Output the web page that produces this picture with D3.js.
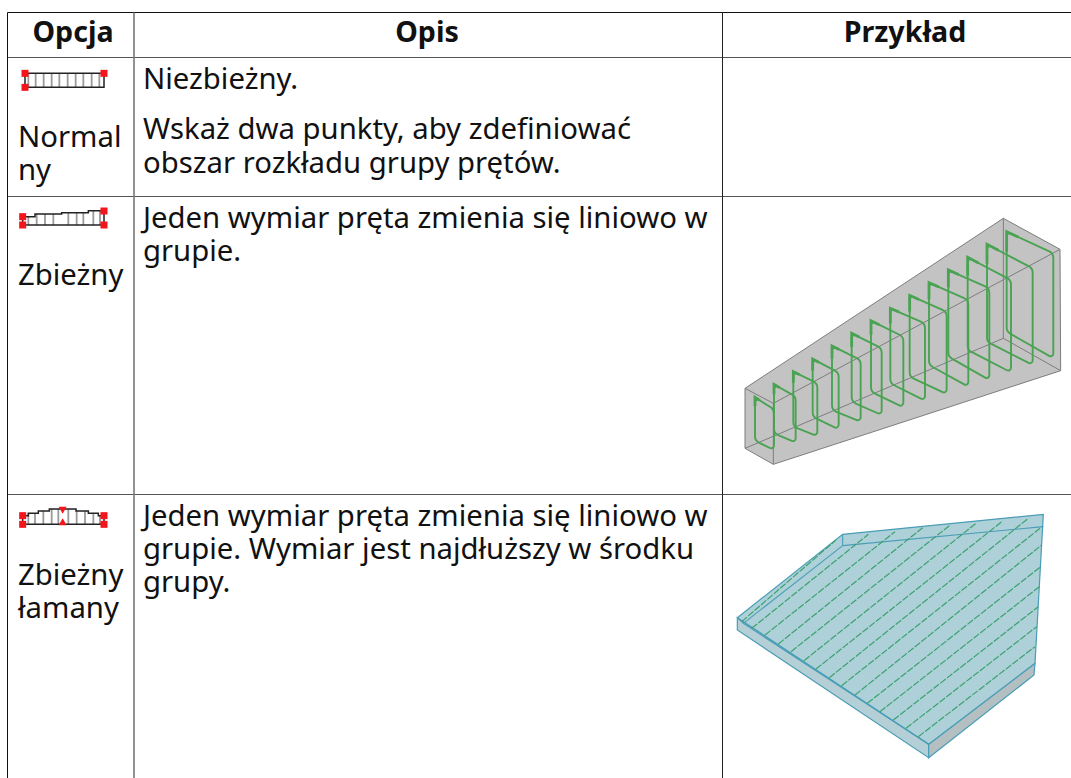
<!DOCTYPE html>
<html>
<head>
<meta charset="utf-8">
<script src="https://cdn.jsdelivr.net/npm/d3@7"></script>
<style>
  html, body { margin: 0; padding: 0; background: #fff; overflow: hidden; }
  text { font-family: "Noto Sans", sans-serif; fill: #111; }
</style>
</head>
<body>
<div id="chart"></div>
<script>
// table content
var headers = ["Opcja", "Opis", "Przykład"];
var optionLabels = [["Normal", "ny"], ["Zbieżny"], ["Zbieżny", "łamany"]];
var optionBaselines = [[147, 180], [285], [585, 618]];
var descriptions = [
  ["Niezbieżny.", "", "Wskaż dwa punkty, aby zdefiniować", "obszar rozkładu grupy prętów."],
  ["Jeden wymiar pręta zmienia się liniowo w", "grupie."],
  ["Jeden wymiar pręta zmienia się liniowo w", "grupie. Wymiar jest najdłuższy w środku", "grupy."]
];
var descBaselines = [[89, 0, 139, 172.5], [228, 261], [526, 559, 592]];

// grid lines
var columnEdges = [7.5, 134, 722.5];
var columnColours = ["#111", "#777", "#222"];
var rowEdges = [12.5, 57.5, 196.5, 494.5];
var headerCentres = [73, 427, 905];
var headerBaseline = 42;

// stirrup picture, read in 3x crop units (crop starts at 730,200)
var boxOutline = [[45,565],[820,55],[990,148],[992,512],[130,793],[45,745]];
var boxInner = [
  [[45,565],[130,610],[130,793]],
  [[130,610],[990,148]],
  [[45,745],[820,415]],
  [[820,55],[820,415]],
  [[820,415],[992,512]]
];
var stirTL = [[75,592],[132,553],[190,515],[248,477],[306,438],[365,400],[423,362],[481,325],[539,286],[597,248],[655,210],[713,172],[771,133],[830,95]];
var stirTR = [[132,628],[197,590],[262,550],[326,518],[392,480],[455,445],[520,410],[585,370],[650,335],[715,300],[778,265],[843,240],[908,205],[970,160]];
var stirBR = [[132,750],[197,728],[262,708],[326,688],[392,665],[455,645],[520,622],[585,602],[650,582],[715,560],[778,540],[843,517],[908,495],[970,475]];
var stirBL = [[75,722],[132,700],[190,680],[248,650],[306,630],[365,605],[423,575],[481,550],[539,530],[597,495],[655,470],[713,450],[771,425],[830,395]];

// plate picture, read in 3x crop units (crop starts at 730,495)
var plateTop = [[22,368],[338,118],[940,58],[915,505],[596,748]];
var plateFrontLeft = [[22,368],[22,405],[596,788],[596,748]];
var plateFrontRight = [[596,748],[596,788],[912,540],[915,505]];
var plateHidden = [
  [[338,118],[338,152]],
  [[338,152],[940,95]],
  [[338,152],[40,385]],
  [[22,368],[40,385]],
  [[40,385],[596,748]]
];
var plateBars = [
  [[35,380],[318,135]], [[65,400],[415,118]], [[105,420],[495,110]], [[145,447],[578,98]],
  [[183,470],[658,92]], [[222,497],[738,85]], [[258,522],[818,78]], [[298,548],[895,70]],
  [[335,572],[930,100]], [[375,600],[935,150]], [[412,625],[932,215]], [[450,650],[928,275]],
  [[490,675],[925,335]], [[528,700],[920,395]], [[565,725],[915,455]]
];

// small option icons, read in 3x crop units (crops start at 0,0 / 0,190 / 0,490)
var icon1Frame = [[75,220],[312,220],[312,262],[75,262],[75,220]];
var icon1Bars = [85,107,131,155,178,203,227,250,275,298];
var icon1Red = [[75,220],[75,262],[312,220]];
var icon2Top = [[68,80],[105,80],[105,72],[185,72],[185,68],[265,68],[265,62],[312,62]];
var icon2Bottom = [[68,105],[312,105]];
var icon2Bars = [[85,80],[110,72],[135,72],[160,72],[205,68],[230,68],[250,68],[280,62],[300,62]];
var icon2Red = [[68,80],[68,105],[312,63],[312,105]];
var icon3Top = [[68,77],[85,77],[85,70],[115,70],[115,63],[148,63],[148,57],[228,57],[228,63],[265,63],[265,70],[295,70],[295,77],[312,77]];
var icon3Bottom = [[68,103],[312,103]];
var icon3Bars = [[85,70],[105,70],[130,63],[155,57],[175,57],[205,57],[230,63],[255,63],[280,70],[300,77]];
var icon3Red = [[68,77],[68,103],[312,77],[312,103]];
var icon3Tri = [[188,62,1],[188,94,-1]];

var svgWidth = 1071, svgHeight = 778;

var svg = d3.select("#chart").append("svg")
  .attr("width", svgWidth)
  .attr("height", svgHeight)
  .style("display", "block");

// crop units to page pixels
function cropScales(x0, y0) {
  return {
    x: d3.scaleLinear().domain([0, 3]).range([x0, x0 + 1]),
    y: d3.scaleLinear().domain([0, 3]).range([y0, y0 + 1])
  };
}
function lineFor(s, closed) {
  var l = d3.line().x(d => s.x(d[0])).y(d => s.y(d[1]));
  return closed ? pts => l(pts) + "Z" : l;
}

// stirrup picture
var boxS = cropScales(730, 200);
var g1 = svg.append("g");
g1.append("path").attr("d", lineFor(boxS, true)(boxOutline))
  .attr("fill", "#c3c3c3").attr("stroke", "#7d7d7d").attr("stroke-width", 1);
g1.selectAll("path.inner").data(boxInner).enter().append("path")
  .attr("class", "inner")
  .attr("d", lineFor(boxS))
  .attr("fill", "none").attr("stroke", "#7d7d7d").attr("stroke-width", 1);

// rounded closed stirrup through d3.path arcs
function stirrupPath(i) {
  var c = [stirTL[i], stirTR[i], stirBR[i], stirBL[i]].map(p => [boxS.x(p[0]), boxS.y(p[1])]);
  var p = d3.path(), r = 7;
  p.moveTo((c[0][0] + c[3][0]) / 2, (c[0][1] + c[3][1]) / 2);
  p.arcTo(c[0][0], c[0][1], c[1][0], c[1][1], r * 0.4);
  p.arcTo(c[1][0], c[1][1], c[2][0], c[2][1], r);
  p.arcTo(c[2][0], c[2][1], c[3][0], c[3][1], r * 0.4);
  p.arcTo(c[3][0], c[3][1], c[0][0], c[0][1], r);
  p.closePath();
  return p.toString();
}
g1.selectAll("path.stirrup").data(d3.range(stirTL.length)).enter().append("path")
  .attr("class", "stirrup")
  .attr("d", stirrupPath)
  .attr("fill", "none").attr("stroke", "#4aa352").attr("stroke-width", 1.9);
// thicker hook at the top left corner of each stirrup
function hookPath(i) {
  var tl = stirTL[i], tr = stirTR[i], bl = stirBL[i];
  var along = d3.interpolateArray(tl, tr)(0.25), down = d3.interpolateArray(tl, bl)(0.2);
  return lineFor(boxS)([down, tl, along]);
}
g1.selectAll("path.hook").data(d3.range(stirTL.length)).enter().append("path")
  .attr("class", "hook")
  .attr("d", hookPath)
  .attr("fill", "none").attr("stroke", "#4aa352").attr("stroke-width", 2.8);

// plate picture
var plateS = cropScales(730, 495);
var g2 = svg.append("g");
var plateLine = lineFor(plateS, true);
g2.append("path").attr("d", plateLine(plateFrontLeft)).attr("fill", "#b4d0d6").attr("stroke", "#4a9db6").attr("stroke-width", 1.2);
g2.append("path").attr("d", plateLine(plateFrontRight)).attr("fill", "#b3bfc1").attr("stroke", "#4a9db6").attr("stroke-width", 1.2);
g2.append("path").attr("d", plateLine(plateTop)).attr("fill", "#aed0d9").attr("stroke", "#4a9db6").attr("stroke-width", 1.2);
g2.selectAll("path.hidden").data(plateHidden).enter().append("path")
  .attr("class", "hidden")
  .attr("d", lineFor(plateS))
  .attr("fill", "none").attr("stroke", "#4a9db6").attr("stroke-width", 1.1);
g2.selectAll("path.bar").data(plateBars).enter().append("path")
  .attr("class", "bar")
  .attr("d", lineFor(plateS))
  .attr("fill", "none").attr("stroke", "#3ba26e").attr("stroke-width", 1.2)
  .attr("stroke-dasharray", "7 1.5");

// option icons
function drawIcon(y0, outlines, bars, barBase, reds, tris) {
  var s = cropScales(0, y0);
  var g = svg.append("g");
  g.selectAll("line.tie").data(bars).enter().append("line")
    .attr("class", "tie")
    .attr("x1", d => s.x(d[0])).attr("x2", d => s.x(d[0]))
    .attr("y1", d => s.y(d[1])).attr("y2", s.y(barBase))
    .attr("stroke", "#9a9a9a").attr("stroke-width", 1.8);
  g.selectAll("path.edge").data(outlines).enter().append("path")
    .attr("class", "edge")
    .attr("d", lineFor(s))
    .attr("fill", "none").attr("stroke", "#222").attr("stroke-width", 1.5);
  g.selectAll("rect").data(reds).enter().append("rect")
    .attr("x", d => s.x(d[0]) - 3.5).attr("y", d => s.y(d[1]) - 3.5)
    .attr("width", 7).attr("height", 7).attr("fill", "#f4141c");
  g.selectAll("path.tri").data(tris).enter().append("path")
    .attr("class", "tri")
    .attr("d", d => {
      var p = d3.path();
      var x = s.x(d[0]), y = s.y(d[1]);
      p.moveTo(x - 4, y - 4 * d[2]);
      p.lineTo(x + 4, y - 4 * d[2]);
      p.lineTo(x, y + 3 * d[2]);
      p.closePath();
      return p.toString();
    })
    .attr("fill", "#f4141c");
}
drawIcon(0, [icon1Frame], icon1Bars.map(x => [x, 220]), 262, icon1Red, []);
drawIcon(190, [icon2Top, icon2Bottom, [[68,80],[68,105]], [[312,62],[312,105]]], icon2Bars, 105, icon2Red, []);
drawIcon(490, [icon3Top, icon3Bottom, [[68,77],[68,103]], [[312,77],[312,103]]], icon3Bars, 103, icon3Red, icon3Tri);

// table rules
var grid = svg.append("g");
grid.selectAll("line.row").data(rowEdges).enter().append("line")
  .attr("class", "row")
  .attr("x1", columnEdges[0]).attr("x2", svgWidth)
  .attr("y1", d => d).attr("y2", d => d)
  .attr("stroke", (d, i) => i == 0 ? "#111" : "#555")
  .attr("stroke-width", (d, i) => i == 0 ? 1 : 1.2);
grid.selectAll("line.col").data(columnEdges).enter().append("line")
  .attr("class", "col")
  .attr("x1", d => d).attr("x2", d => d)
  .attr("y1", rowEdges[0]).attr("y2", svgHeight)
  .attr("stroke", (d, i) => columnColours[i])
  .attr("stroke-width", (d, i) => i == 1 ? 1.6 : 1);

// texts
svg.selectAll("text.head").data(headers).enter().append("text")
  .attr("class", "head")
  .attr("x", (d, i) => headerCentres[i])
  .attr("y", headerBaseline)
  .attr("text-anchor", "middle")
  .attr("font-size", 28.6)
  .attr("font-weight", 700)
  .text(d => d);

optionLabels.forEach(function(lines, r) {
  svg.selectAll("text.opt" + r).data(lines).enter().append("text")
    .attr("class", "opt" + r)
    .attr("x", 18)
    .attr("y", (d, i) => optionBaselines[r][i])
    .attr("font-size", 29.3)
    .text(d => d);
});
descriptions.forEach(function(lines, r) {
  svg.selectAll("text.desc" + r).data(lines).enter().append("text")
    .attr("class", "desc" + r)
    .attr("x", 143)
    .attr("y", (d, i) => descBaselines[r][i])
    .attr("font-size", 29.3)
    .text(d => d);
});
</script>
</body>
</html>
